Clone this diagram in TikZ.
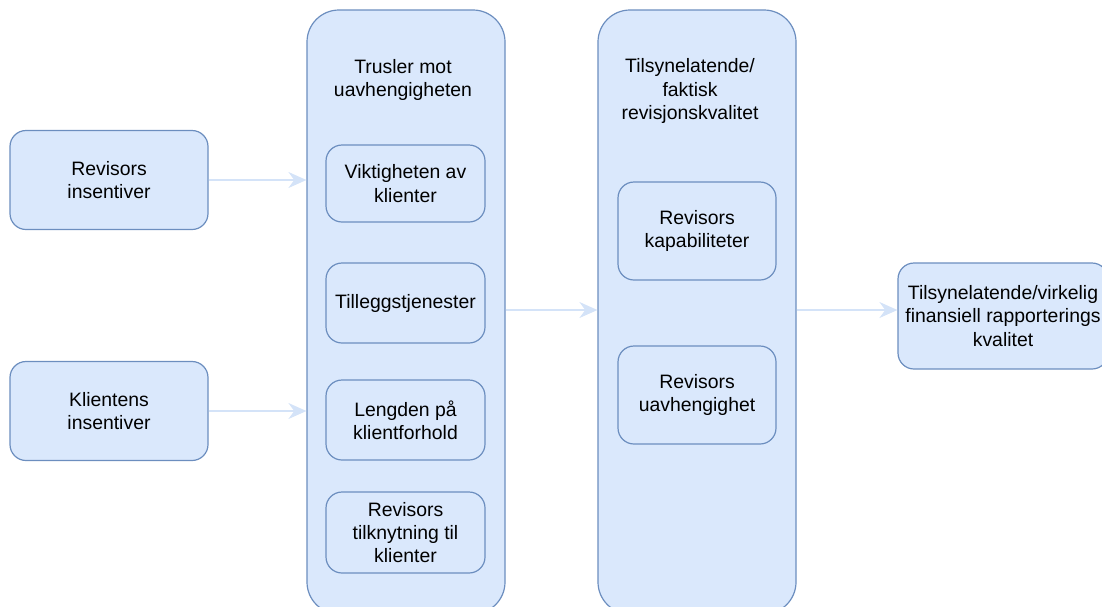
\documentclass[tikz,border=0pt]{standalone}
\usepackage{fontspec}
\setmainfont{Liberation Sans}
\usepackage{tikz}
\usetikzlibrary{positioning, arrows.meta}
\definecolor{boxfill}{HTML}{DAE8FC}
\definecolor{boxline}{HTML}{6C8EBF}
\definecolor{arrowcol}{HTML}{D4E3F8}
\tikzset{
    box/.style = {draw=boxline, fill=boxfill, line width=0.6pt, rounded corners=8pt,
                  align=center, inner sep=2pt},
    column/.style = {box, rounded corners=16pt},
    title/.style = {align=center},
    arrow/.style = {draw=arrowcol, line width=0.7pt, -{Stealth[length=9pt, width=8pt]}}
}

\begin{document}
\begin{tikzpicture}[x=0.5pt, y=-0.5pt, font=\fontsize{9.7}{11.6}\selectfont]
        \useasboundingbox (0,0) rectangle (1102,606);
        % left side
        \node[box, minimum width=99pt, minimum height=49.5pt] (revins) at (109,180) {Revisors\\insentiver};
        \node[box, minimum width=99pt, minimum height=49.5pt] (klins) at (109,411) {Klientens\\insentiver};
        % columns
        \node[column, minimum width=99pt, minimum height=302pt] (trusler) at (406,312) {};
        \node[column, minimum width=99pt, minimum height=302pt] (kvalitet) at (697,312) {};
        \node[title] (truslertitle) at (403,80) {Trusler mot\\uavhengigheten};
        \node[title] (kvalitettitle) at (690,91) {Tilsynelatende/\\faktisk\\revisjonskvalitet};
        % threats
        \node[box, minimum width=79.5pt, minimum height=38.5pt] (viktig) at (405.5,183.5) {Viktigheten av\\klienter};
        \node[box, minimum width=79.5pt, minimum height=40pt] (tillegg) at (405.5,303) {Tilleggstjenester};
        \node[box, minimum width=79.5pt, minimum height=40pt] (lengde) at (405.5,420) {Lengden på\\klientforhold};
        \node[box, minimum width=79.5pt, minimum height=40.5pt] (tilknyt) at (405.5,532.5) {Revisors\\tilknytning til\\klienter};
        % quality
        \node[box, minimum width=79pt, minimum height=49pt] (kapab) at (697,231) {Revisors\\kapabiliteter};
        \node[box, minimum width=79pt, minimum height=49pt] (uavh) at (697,395) {Revisors\\uavhengighet};
        % result
        \node[box, minimum width=105pt, minimum height=53pt] (finans) at (1003,316) {Tilsynelatende/virkelig\\finansiell rapporterings\\kvalitet};
        % arrows
        \draw[arrow] (revins.east) -- (revins.east -| trusler.west);
        \draw[arrow] (klins.east) -- (klins.east -| trusler.west);
        \draw[arrow] ([yshift=1pt]trusler.east) -- ([yshift=1pt]trusler.east -| kvalitet.west);
        \draw[arrow] ([yshift=1pt]kvalitet.east) -- ([yshift=1pt]kvalitet.east -| finans.west);
    \end{tikzpicture}
\end{document}
